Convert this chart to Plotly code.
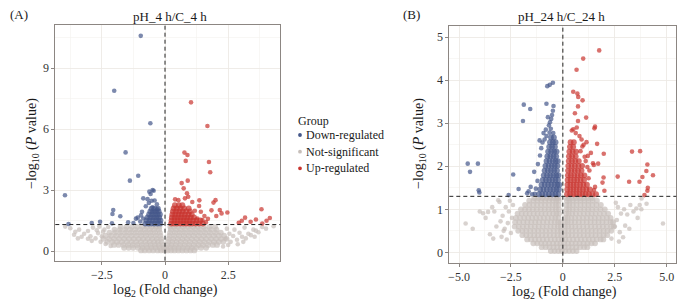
import plotly.graph_objects as go

FONT = "Liberation Serif"
C_DOWN = "#44578a"
C_NS = "#c7bfba"
C_UP = "#c9352f"
FRAME = "#8c8682"

P_CUTOFF_LOG = 1.301   # -log10(0.05)
FC_CUTOFF = 0.0

# ---------------- Panel A : pH_4 h / C_4 h ----------------
a_down_pts = [(-0.96, 10.58), (-2.01, 7.88), (-0.58, 6.28), (-1.56, 4.85), (-1.06, 3.70),
              (-1.39, 3.46), (-3.96, 2.74), (-2.05, 2.02), (-2.08, 1.82), (-1.77, 1.71),
              (-2.57, 1.44), (-2.90, 1.38), (-3.82, 1.33), (-2.10, 1.36), (-1.46, 1.41),
              (-1.15, 1.59), (-1.08, 1.64), (-0.91, 1.93), (-0.86, 1.60), (-0.62, 2.92),
              (-0.49, 3.00), (-0.45, 2.96), (-0.57, 2.80), (-0.86, 2.59), (-0.69, 2.55),
              (-0.53, 2.47), (-0.41, 2.48), (-0.32, 2.30), (-0.64, 2.36), (-0.76, 2.20),
              (-0.49, 2.15), (-0.30, 2.05), (-0.98, 1.45), (-1.25, 1.38), (-0.95, 1.75)]
a_down_row_y = [1.35, 1.50, 1.65, 1.80, 1.95, 2.08]
a_down_row_x = [[-0.78, -0.66, -0.54, -0.42, -0.30, -0.19],
                [-0.73, -0.61, -0.49, -0.37, -0.26, -0.18],
                [-0.69, -0.57, -0.45, -0.34, -0.23],
                [-0.63, -0.51, -0.40, -0.29, -0.20],
                [-0.58, -0.47, -0.36, -0.25],
                [-0.53, -0.41, -0.28]]

a_up_pts = [(1.03, 7.31), (1.68, 6.15), (0.77, 4.84), (0.89, 4.72), (0.82, 4.43), (1.74, 4.38),
            (1.79, 3.87), (0.66, 3.34), (0.90, 3.46), (0.74, 3.08), (0.87, 2.84), (0.92, 2.67),
            (0.40, 2.54), (0.53, 2.50), (0.79, 2.59), (1.08, 2.41), (1.36, 2.49), (1.92, 2.38),
            (2.00, 2.50), (1.84, 2.00), (2.17, 2.02), (2.24, 1.85), (2.47, 1.89), (2.03, 1.72),
            (1.35, 2.21), (1.42, 1.93), (1.48, 1.52), (1.28, 1.60), (2.92, 1.39), (3.04, 1.49),
            (3.17, 1.64), (3.39, 1.44), (3.60, 1.55), (3.82, 2.05), (3.85, 1.35), (4.02, 1.49),
            (4.15, 1.62), (1.18, 1.98), (1.62, 1.42), (1.70, 1.58), (1.56, 1.72)]
a_up_row_y = [1.35, 1.50, 1.65, 1.80, 1.95, 2.10, 2.25]
a_up_row_x = [[0.24, 0.36, 0.48, 0.60, 0.72, 0.84, 0.96, 1.08, 1.21, 1.35, 1.50],
              [0.26, 0.38, 0.50, 0.62, 0.74, 0.86, 0.98, 1.11, 1.25, 1.40],
              [0.27, 0.39, 0.51, 0.63, 0.76, 0.88, 1.01, 1.15],
              [0.29, 0.41, 0.54, 0.66, 0.79, 0.93, 1.06],
              [0.31, 0.44, 0.57, 0.70, 0.84, 0.99],
              [0.34, 0.47, 0.61, 0.76, 0.94],
              [0.39, 0.55, 0.69]]

a_ns_pts = [(-3.75, 1.12), (-3.55, 0.95), (-3.40, 1.05), (-3.20, 0.85), (-3.05, 0.98), (-2.95, 0.72),
            (-2.85, 1.15), (-2.75, 0.62), (-2.65, 0.88), (-2.60, 1.20), (-2.55, 0.45), (-2.50, 0.72),
            (-2.70, 1.02), (-3.30, 0.70), (-3.60, 0.80), (-2.40, 1.05), (-2.35, 0.35), (-2.25, 1.18),
            (-2.15, 0.25), (-2.45, 0.95), (-3.05, 0.60), (-2.90, 0.50), (-3.95, 1.20), (-3.45, 0.62),
            (2.45, 1.10), (2.55, 0.85), (2.60, 0.45), (2.70, 0.74), (2.75, 1.05), (2.85, 0.55),
            (2.88, 0.33), (2.95, 0.90), (3.05, 0.70), (3.15, 1.15), (3.20, 0.62), (3.30, 0.85),
            (3.40, 0.78), (3.50, 1.05), (3.60, 1.00), (3.70, 0.92), (3.85, 1.18), (4.00, 1.10),
            (4.30, 1.22), (2.30, 0.22), (2.50, 0.30), (3.10, 0.45), (3.55, 0.70), (2.40, 0.60)]
a_ns_row_y = [0.03, 0.16, 0.30, 0.45, 0.60, 0.75, 0.90, 1.05, 1.19]
a_ns_row_x = [
    [-0.95, -0.80, -0.63, -0.47, -0.30, -0.16, -0.02, 0.10, 0.24, 0.38, 0.53, 0.69, 0.85, 1.01, 1.16],
    [-1.62, -1.44, -1.26, -1.07, -0.89, -0.71, -0.54, -0.37, -0.20, -0.05, 0.06, 0.21, 0.37, 0.54,
     0.71, 0.89, 1.06, 1.24, 1.43, 1.63],
    [-2.02, -1.84, -1.65, -1.46, -1.28, -1.10, -0.92, -0.74, -0.57, -0.40, -0.24, -0.09, 0.10, 0.26,
     0.43, 0.60, 0.78, 0.96, 1.14, 1.33, 1.51, 1.71, 1.90, 2.06],
    [-2.28, -2.08, -1.89, -1.70, -1.51, -1.32, -1.13, -0.95, -0.77, -0.60, -0.43, -0.28, -0.13, 0.13,
     0.29, 0.46, 0.63, 0.81, 0.99, 1.18, 1.37, 1.56, 1.75, 1.94, 2.13, 2.31],
    [-2.44, -2.22, -2.02, -1.82, -1.62, -1.43, -1.24, -1.05, -0.87, -0.69, -0.51, -0.33, -0.15, 0.15,
     0.33, 0.51, 0.69, 0.87, 1.06, 1.25, 1.44, 1.63, 1.83, 2.03, 2.23, 2.44],
    [-2.36, -2.14, -1.93, -1.73, -1.53, -1.33, -1.13, -0.94, -0.75, -0.56, -0.37, -0.18, 0.18, 0.37,
     0.56, 0.75, 0.94, 1.13, 1.33, 1.53, 1.73, 1.93, 2.13, 2.34],
    [-2.20, -1.98, -1.77, -1.56, -1.36, -1.16, -0.96, -0.77, -0.58, -0.39, -0.20, 0.20, 0.39, 0.58,
     0.78, 0.98, 1.18, 1.38, 1.58, 1.78, 1.99, 2.21],
    [-2.00, -1.79, -1.58, -1.38, -1.18, -0.98, -0.79, -0.60, -0.42, -0.23, 0.23, 0.42, 0.61, 0.80,
     1.00, 1.20, 1.40, 1.61, 1.82, 2.04],
    [-1.76, -1.53, -1.31, -1.10, -0.90, -0.71, -0.53, -0.36, -0.22, 0.21, 0.35, 0.52, 0.71, 0.91,
     1.11, 1.31, 1.53, 1.76, 1.98]]

# ---------------- Panel B : pH_24 h / C_24 h ----------------
b_down_pts = [(-0.48, 3.94), (-0.63, 3.89), (-0.75, 3.86), (-1.88, 3.43), (-1.57, 3.33), (-1.92, 3.05),
              (-0.79, 3.45), (-0.45, 3.40), (-0.48, 3.29), (-0.52, 3.19), (-0.56, 3.10), (-0.62, 3.02),
              (-0.67, 2.95), (-0.58, 2.87), (-0.93, 2.77), (-0.79, 2.70), (-1.12, 2.60), (-1.04, 2.42),
              (-0.64, 2.78), (-0.46, 2.77), (-0.72, 3.14), (-0.82, 2.85), (-0.98, 2.55), (-0.88, 2.62),
              (-4.58, 2.06), (-4.09, 2.06), (-4.47, 1.87), (-4.05, 1.44), (-4.02, 1.39), (-2.39, 1.81),
              (-2.61, 1.33), (-2.13, 1.47), (-1.38, 1.87), (-1.55, 1.52), (-1.65, 1.42), (-1.48, 1.35),
              (-1.72, 1.37), (-1.22, 1.66), (-1.30, 1.48), (-1.20, 2.05), (-1.10, 2.25), (-1.35, 1.36)]
b_down_row_y = [1.35, 1.46, 1.57, 1.68, 1.79, 1.90, 2.01, 2.12, 2.23, 2.34, 2.45, 2.56, 2.67]
b_down_row_x = [[-1.15, -0.99, -0.83, -0.67, -0.51, -0.36, -0.22],
                [-1.09, -0.93, -0.77, -0.61, -0.46, -0.31, -0.19],
                [-1.03, -0.87, -0.71, -0.56, -0.41, -0.27, -0.17],
                [-0.97, -0.81, -0.66, -0.51, -0.36, -0.23],
                [-0.92, -0.76, -0.61, -0.46, -0.32, -0.21],
                [-0.88, -0.72, -0.57, -0.42, -0.28],
                [-0.84, -0.68, -0.53, -0.39, -0.26],
                [-0.79, -0.64, -0.49, -0.35, -0.24],
                [-0.75, -0.60, -0.45, -0.32],
                [-0.71, -0.56, -0.42, -0.30],
                [-0.66, -0.52, -0.38],
                [-0.62, -0.48, -0.35],
                [-0.57, -0.43]]

b_up_pts = [(1.75, 4.69), (0.98, 4.50), (0.66, 4.24), (0.50, 3.73), (0.70, 3.69), (0.74, 3.61),
            (0.95, 3.53), (0.73, 3.39), (0.58, 3.23), (1.12, 3.13), (0.73, 3.05), (1.52, 2.88),
            (1.55, 2.92), (0.67, 2.90), (0.43, 2.83), (0.50, 2.86), (0.62, 2.77), (1.14, 2.56),
            (1.65, 2.52), (0.94, 2.46), (1.00, 2.50), (1.35, 2.31), (1.97, 2.29), (3.33, 2.34),
            (3.72, 2.35), (4.07, 2.04), (1.49, 2.03), (4.02, 1.89), (4.34, 1.79), (3.83, 1.75),
            (2.64, 1.76), (3.19, 1.64), (3.69, 1.64), (4.09, 1.50), (4.07, 1.43), (3.93, 1.33),
            (1.96, 1.74), (1.91, 1.62), (2.00, 1.43), (1.50, 1.45), (1.55, 1.52), (1.24, 1.72),
            (1.28, 1.90), (1.18, 1.98), (1.10, 2.12), (1.45, 2.07), (1.70, 2.06), (1.05, 2.22),
            (1.20, 2.24), (0.85, 2.35), (0.90, 2.62), (0.80, 2.70)]
b_up_row_y = [1.35, 1.46, 1.57, 1.68, 1.79, 1.90, 2.01, 2.12, 2.23, 2.34, 2.45, 2.56]
b_up_row_x = [[0.20, 0.35, 0.50, 0.65, 0.80, 0.95, 1.10, 1.26, 1.42, 1.60],
              [0.21, 0.36, 0.51, 0.66, 0.81, 0.97, 1.13, 1.30],
              [0.22, 0.37, 0.52, 0.67, 0.83, 0.99, 1.16],
              [0.23, 0.38, 0.54, 0.69, 0.85, 1.02],
              [0.24, 0.39, 0.55, 0.71, 0.87, 1.04],
              [0.25, 0.41, 0.57, 0.73, 0.90],
              [0.26, 0.42, 0.58, 0.75, 0.93],
              [0.28, 0.44, 0.60, 0.77],
              [0.29, 0.45, 0.62],
              [0.31, 0.47, 0.64],
              [0.34, 0.50],
              [0.37, 0.53]]

b_ns_pts = [(-4.68, 0.67), (-4.34, 0.55), (-4.00, 0.95), (-3.84, 0.91), (-3.72, 0.80), (-3.60, 0.94),
            (-3.51, 0.42), (-3.40, 1.05), (-3.30, 0.95), (-3.20, 0.60), (-3.05, 1.17), (-3.00, 0.72),
            (-2.90, 0.85), (-2.85, 0.50), (-2.75, 1.05), (-2.70, 0.30), (-2.65, 0.68), (-2.60, 0.95),
            (-2.55, 1.20), (-2.50, 0.45), (-2.45, 0.80), (-2.40, 1.10), (-3.35, 0.32), (-3.11, 1.21),
            (-2.95, 0.36), (-2.80, 0.55),
            (4.82, 0.67), (3.54, 1.02), (3.40, 0.95), (3.25, 1.10), (3.10, 0.88), (2.95, 1.00),
            (2.74, 0.47), (2.34, 0.32), (2.60, 0.75), (2.80, 0.90), (3.00, 0.62), (3.70, 1.10),
            (3.79, 1.25), (4.03, 1.13), (2.55, 1.15), (3.20, 0.55), (2.90, 0.35), (3.60, 0.80),
            (3.78, 1.00), (2.70, 0.25), (2.50, 0.60), (2.65, 1.05)]
b_ns_row_y = [0.03, 0.12, 0.21, 0.30, 0.40, 0.50, 0.60, 0.70, 0.80, 0.90, 1.00, 1.10, 1.20, 1.26]
b_ns_row_x = [
    [-0.58, -0.40, -0.22, -0.05, 0.12, 0.30, 0.48, 0.66],
    [-1.02, -0.83, -0.64, -0.45, -0.27, -0.09, 0.09, 0.27, 0.45, 0.64, 0.83, 1.02, 1.18],
    [-1.42, -1.23, -1.04, -0.85, -0.66, -0.47, -0.29, -0.11, 0.07, 0.25, 0.43, 0.62, 0.81, 1.00,
     1.19, 1.38, 1.55],
    [-1.72, -1.53, -1.34, -1.15, -0.96, -0.77, -0.58, -0.39, -0.21, -0.04, 0.12, 0.30, 0.49, 0.68,
     0.87, 1.06, 1.25, 1.44, 1.63, 1.82, 1.95],
    [-1.95, -1.76, -1.57, -1.38, -1.19, -1.00, -0.81, -0.62, -0.43, -0.25, -0.08, 0.09, 0.26, 0.44,
     0.63, 0.82, 1.01, 1.20, 1.39, 1.58, 1.77, 1.96, 2.14],
    [-2.15, -1.95, -1.76, -1.57, -1.38, -1.19, -1.00, -0.81, -0.62, -0.43, -0.25, -0.09, 0.09, 0.26,
     0.44, 0.63, 0.82, 1.01, 1.20, 1.39, 1.58, 1.77, 1.96, 2.15, 2.33],
    [-2.32, -2.12, -1.92, -1.73, -1.54, -1.35, -1.16, -0.97, -0.78, -0.59, -0.41, -0.24, -0.10, 0.10,
     0.25, 0.42, 0.60, 0.79, 0.98, 1.17, 1.36, 1.55, 1.74, 1.93, 2.12, 2.32, 2.45],
    [-2.30, -2.10, -1.90, -1.71, -1.52, -1.33, -1.14, -0.95, -0.76, -0.57, -0.39, -0.23, -0.11, 0.11,
     0.23, 0.40, 0.58, 0.77, 0.96, 1.15, 1.34, 1.53, 1.72, 1.91, 2.10, 2.30, 2.42],
    [-2.26, -2.06, -1.86, -1.67, -1.48, -1.29, -1.10, -0.91, -0.72, -0.53, -0.36, -0.21, 0.12, 0.24,
     0.41, 0.59, 0.78, 0.97, 1.16, 1.35, 1.54, 1.73, 1.92, 2.12, 2.30],
    [-2.18, -1.98, -1.79, -1.60, -1.41, -1.22, -1.03, -0.84, -0.65, -0.47, -0.31, -0.18, 0.16, 0.28,
     0.45, 0.63, 0.82, 1.01, 1.20, 1.39, 1.58, 1.78, 1.98, 2.18],
    [-2.02, -1.82, -1.63, -1.44, -1.25, -1.06, -0.87, -0.68, -0.50, -0.33, -0.19, 0.17, 0.30, 0.47,
     0.65, 0.84, 1.03, 1.22, 1.41, 1.61, 1.81, 2.02],
    [-1.82, -1.62, -1.43, -1.24, -1.05, -0.86, -0.67, -0.49, -0.33, -0.20, 0.18, 0.31, 0.48, 0.66,
     0.85, 1.04, 1.23, 1.42, 1.62, 1.83],
    [-1.62, -1.42, -1.23, -1.04, -0.85, -0.66, -0.48, -0.32, -0.20, 0.19, 0.31, 0.48, 0.66, 0.85,
     1.04, 1.23, 1.43, 1.64],
    [-1.38, -1.18, -0.99, -0.80, -0.62, -0.45, -0.30, -0.21, 0.20, 0.30, 0.46, 0.64, 0.83, 1.02,
     1.22, 1.42]]

# ---------------- text ----------------
panel_titles = ["pH_4 h/C_4 h", "pH_24 h/C_24 h"]
panel_tags = ["(A)", "(B)"]
legend_title = "Group"
group_names = ["Down-regulated", "Not-significant", "Up-regulated"]
a_xtickvals = [-2.5, 0, 2.5]
a_xticktext = ["\u22122.5", "0", "2.5"]
a_ytickvals = [0, 3, 6, 9]
b_xtickvals = [-5, -2.5, 0, 2.5, 5]
b_xticktext = ["\u22125.0", "\u22122.5", "0", "2.5", "5.0"]
b_ytickvals = [0, 1, 2, 3, 4, 5]


def collect(pts, row_y, row_x):
    xs = [p[0] for p in pts]
    ys = [p[1] for p in pts]
    sizes = [4.6] * len(pts)
    for y, xr in zip(row_y, row_x):
        xs += list(xr)
        ys += [y] * len(xr)
        sizes += [5.8] * len(xr)
    return xs, ys, sizes


W, H = 691, 308
fig = go.Figure()

panels = [
    ("x", "y", (a_ns_pts, a_ns_row_y, a_ns_row_x), (a_down_pts, a_down_row_y, a_down_row_x),
     (a_up_pts, a_up_row_y, a_up_row_x)),
    ("x2", "y2", (b_ns_pts, b_ns_row_y, b_ns_row_x), (b_down_pts, b_down_row_y, b_down_row_x),
     (b_up_pts, b_up_row_y, b_up_row_x)),
]
for xa, ya, ns, dn, up in panels:
    for data, col, nm in ((ns, C_NS, group_names[1]), (dn, C_DOWN, group_names[0]), (up, C_UP, group_names[2])):
        xs, ys, ss = collect(*data)
        fig.add_trace(go.Scatter(x=xs, y=ys, mode="markers", name=nm, xaxis=xa, yaxis=ya,
                                 showlegend=False, hoverinfo="skip",
                                 marker=dict(size=ss, color=col, line=dict(width=0))))

axis_common = dict(showline=True, mirror=True, linecolor=FRAME, linewidth=1,
                   ticks="outside", ticklen=3, tickcolor=FRAME, tickwidth=1,
                   showgrid=True, gridcolor="#ece8e5", gridwidth=0.8, zeroline=False,
                   tickfont=dict(family=FONT, size=12, color="#333333"))


def minor(d):
    return dict(tick0=0, dtick=d, showgrid=True, gridcolor="#f4f1ef", gridwidth=0.6, ticks="")


fig.update_layout(
    width=W, height=H, margin=dict(l=0, r=0, t=0, b=0),
    paper_bgcolor="white", plot_bgcolor="white", showlegend=False,
    font=dict(family=FONT, color="#1a1a1a"),
    xaxis=dict(domain=[55.3 / W, 280.3 / W], range=[-4.343, 4.565], tickvals=a_xtickvals,
               ticktext=a_xticktext, minor=minor(1.25), anchor="y", **axis_common),
    yaxis=dict(domain=[1 - 260.7 / H, 1 - 25.3 / H], range=[-0.477, 11.10], tickvals=a_ytickvals,
               minor=minor(1.5), anchor="x", **axis_common),
    xaxis2=dict(domain=[449.3 / W, 676.3 / W], range=[-5.467, 5.462], tickvals=b_xtickvals,
                ticktext=b_xticktext, minor=minor(1.25), anchor="y2", **axis_common),
    yaxis2=dict(domain=[1 - 262.7 / H, 1 - 26.3 / H], range=[-0.24, 5.25], tickvals=b_ytickvals,
                minor=minor(0.5), anchor="x2", **axis_common),
)

dash = dict(color="#222222", width=1, dash="4px,3px")
for xr, yr in (("x", "y"), ("x2", "y2")):
    fig.add_shape(type="line", xref=xr, yref=yr + " domain", x0=FC_CUTOFF, x1=FC_CUTOFF, y0=0, y1=1,
                  line=dash, layer="above")
    fig.add_shape(type="line", xref=xr + " domain", yref=yr, x0=0, x1=1, y0=P_CUTOFF_LOG,
                  y1=P_CUTOFF_LOG, line=dash, layer="above")


def ann(text, px, py, size, angle=0, xanchor="center"):
    fig.add_annotation(text=text, x=px / W, y=1 - py / H, xref="paper", yref="paper",
                       showarrow=False, textangle=angle, xanchor=xanchor, yanchor="middle",
                       font=dict(family=FONT, size=size, color="#1a1a1a"))


ytitle = "\u2212log<sub>10</sub> (<i>P</i> value)"
xtitle = "log<sub>2</sub> (Fold change)"
ann(panel_tags[0], 19, 15, 13)
ann(panel_tags[1], 411, 15, 13)
ann(panel_titles[0], 170, 16, 13)
ann(panel_titles[1], 561, 16, 13)
ann(ytitle, 32, 143, 14, angle=-90)
ann(ytitle, 420, 144, 14, angle=-90)
ann(xtitle, 165, 290, 14)
ann(xtitle, 564, 292, 14)

# legend (drawn manually)
ann(legend_title, 296, 121, 12, xanchor="left")
leg_cols = [C_DOWN, C_NS, C_UP]
leg_y = [135, 151.7, 168.3]
for name, col, yy in zip(group_names, leg_cols, leg_y):
    r = 1.9
    fig.add_shape(type="circle", xref="paper", yref="paper",
                  x0=(300 - r) / W, x1=(300 + r) / W, y0=1 - (yy + r) / H, y1=1 - (yy - r) / H,
                  fillcolor=col, line=dict(width=0))
    ann(name, 303.5, yy, 12, xanchor="left")

fig.write_html("out.html", config={"displayModeBar": False, "staticPlot": True},
               post_script="document.body.style.margin='0px';document.body.style.overflow='hidden';")
